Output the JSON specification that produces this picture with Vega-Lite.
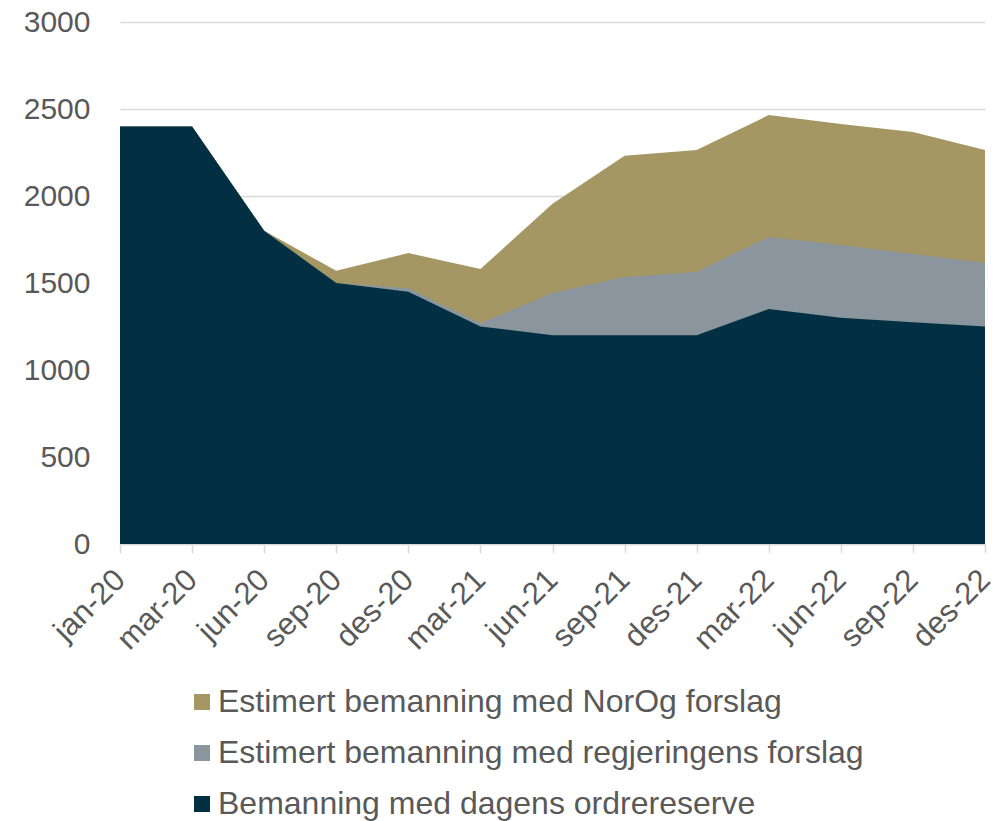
{
  "$schema": "https://vega.github.io/schema/vega-lite/v6.json",
  "width": 865,
  "height": 522,
  "autosize": "none",
  "padding": {"left": 120, "top": 22, "right": 13, "bottom": 277},
  "background": "white",
  "config": {
    "view": {"stroke": null},
    "font": "Liberation Sans",
    "axis": {"labelFont": "Liberation Sans", "labelColor": "#595959"}
  },
  "data": {
    "values": [
      {"m": "jan-20", "s": "Estimert bemanning med NorOg forslag", "v": 2400},
      {"m": "mar-20", "s": "Estimert bemanning med NorOg forslag", "v": 2400},
      {"m": "jun-20", "s": "Estimert bemanning med NorOg forslag", "v": 1800},
      {"m": "sep-20", "s": "Estimert bemanning med NorOg forslag", "v": 1570},
      {"m": "des-20", "s": "Estimert bemanning med NorOg forslag", "v": 1672},
      {"m": "mar-21", "s": "Estimert bemanning med NorOg forslag", "v": 1580},
      {"m": "jun-21", "s": "Estimert bemanning med NorOg forslag", "v": 1955},
      {"m": "sep-21", "s": "Estimert bemanning med NorOg forslag", "v": 2232},
      {"m": "des-21", "s": "Estimert bemanning med NorOg forslag", "v": 2265},
      {"m": "mar-22", "s": "Estimert bemanning med NorOg forslag", "v": 2465},
      {"m": "jun-22", "s": "Estimert bemanning med NorOg forslag", "v": 2414},
      {"m": "sep-22", "s": "Estimert bemanning med NorOg forslag", "v": 2368},
      {"m": "des-22", "s": "Estimert bemanning med NorOg forslag", "v": 2264},
      {"m": "jan-20", "s": "Estimert bemanning med regjeringens forslag", "v": 2400},
      {"m": "mar-20", "s": "Estimert bemanning med regjeringens forslag", "v": 2400},
      {"m": "jun-20", "s": "Estimert bemanning med regjeringens forslag", "v": 1800},
      {"m": "sep-20", "s": "Estimert bemanning med regjeringens forslag", "v": 1500},
      {"m": "des-20", "s": "Estimert bemanning med regjeringens forslag", "v": 1470},
      {"m": "mar-21", "s": "Estimert bemanning med regjeringens forslag", "v": 1268},
      {"m": "jun-21", "s": "Estimert bemanning med regjeringens forslag", "v": 1442},
      {"m": "sep-21", "s": "Estimert bemanning med regjeringens forslag", "v": 1535},
      {"m": "des-21", "s": "Estimert bemanning med regjeringens forslag", "v": 1563},
      {"m": "mar-22", "s": "Estimert bemanning med regjeringens forslag", "v": 1765},
      {"m": "jun-22", "s": "Estimert bemanning med regjeringens forslag", "v": 1718},
      {"m": "sep-22", "s": "Estimert bemanning med regjeringens forslag", "v": 1667},
      {"m": "des-22", "s": "Estimert bemanning med regjeringens forslag", "v": 1615},
      {"m": "jan-20", "s": "Bemanning med dagens ordrereserve", "v": 2400},
      {"m": "mar-20", "s": "Bemanning med dagens ordrereserve", "v": 2400},
      {"m": "jun-20", "s": "Bemanning med dagens ordrereserve", "v": 1800},
      {"m": "sep-20", "s": "Bemanning med dagens ordrereserve", "v": 1500},
      {"m": "des-20", "s": "Bemanning med dagens ordrereserve", "v": 1450},
      {"m": "mar-21", "s": "Bemanning med dagens ordrereserve", "v": 1250},
      {"m": "jun-21", "s": "Bemanning med dagens ordrereserve", "v": 1200},
      {"m": "sep-21", "s": "Bemanning med dagens ordrereserve", "v": 1200},
      {"m": "des-21", "s": "Bemanning med dagens ordrereserve", "v": 1200},
      {"m": "mar-22", "s": "Bemanning med dagens ordrereserve", "v": 1350},
      {"m": "jun-22", "s": "Bemanning med dagens ordrereserve", "v": 1300},
      {"m": "sep-22", "s": "Bemanning med dagens ordrereserve", "v": 1275},
      {"m": "des-22", "s": "Bemanning med dagens ordrereserve", "v": 1250}
    ]
  },
  "encoding": {
    "x": {
      "field": "m", "type": "ordinal", "sort": null,
      "scale": {"type": "point", "padding": 0},
      "axis": {
        "title": null, "labelAngle": -45, "labelAlign": "right", "labelBaseline": "middle",
        "labelFontSize": 31, "grid": false,
        "domainColor": "#d9d9d9", "domainWidth": 1.5, "tickColor": "#d9d9d9", "tickWidth": 1.5, "tickSize": 9,
        "labelPadding": 22
      }
    },
    "y": {
      "field": "v", "type": "quantitative", "stack": null,
      "scale": {"domain": [0, 3000], "nice": false},
      "axis": {
        "title": null, "values": [0, 500, 1000, 1500, 2000, 2500, 3000], "format": "d",
        "labelFontSize": 30,
        "domain": false, "ticks": false, "gridColor": "#d9d9d9", "gridWidth": 1.5,
        "labelPadding": 30
      }
    },
    "color": {
      "field": "s", "type": "nominal",
      "scale": {
        "domain": ["Estimert bemanning med NorOg forslag", "Estimert bemanning med regjeringens forslag", "Bemanning med dagens ordrereserve"],
        "range": ["#a59764", "#8a959e", "#023042"]
      },
      "legend": {
        "title": null, "orient": "none", "direction": "vertical",
        "legendX": 66, "legendY": 664,
        "symbolType": "square", "symbolSize": 256, "symbolStrokeWidth": 0,
        "labelFontSize": 32, "labelColor": "#595959", "labelFont": "Liberation Sans",
        "rowPadding": 19, "labelOffset": 0, "labelLimit": 900
      }
    }
  },
  "layer": [
    {"transform": [{"filter": "datum.s === 'Estimert bemanning med NorOg forslag'"}], "mark": {"type": "area", "opacity": 1}},
    {"transform": [{"filter": "datum.s === 'Estimert bemanning med regjeringens forslag'"}], "mark": {"type": "area", "opacity": 1}},
    {"transform": [{"filter": "datum.s === 'Bemanning med dagens ordrereserve'"}], "mark": {"type": "area", "opacity": 1}}
  ]
}
